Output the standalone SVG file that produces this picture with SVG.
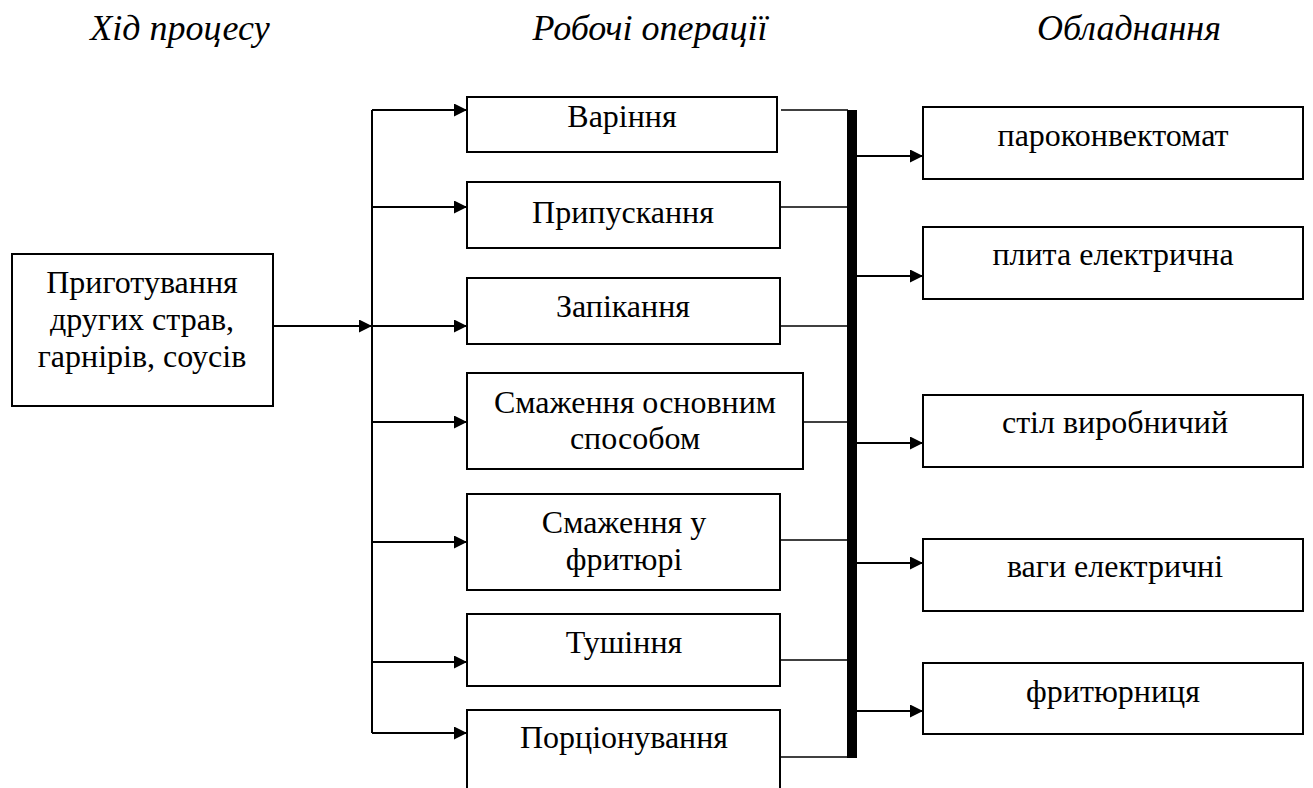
<svg xmlns="http://www.w3.org/2000/svg" width="1313" height="788" viewBox="0 0 1313 788" font-family="Liberation Serif, DejaVu Serif, serif">
<style>
.box{fill:#fff;stroke:#000;stroke-width:2}
text{font-family:"Liberation Serif",serif}
.t{font-size:32px;fill:#000;text-anchor:middle}
.h{font-size:36px;font-style:italic;fill:#000;text-anchor:middle}
.a{stroke:#000;stroke-width:2;fill:none;marker-end:url(#arr)}
.l{stroke:#000;stroke-width:1.5;fill:none}
</style>
<defs>
<marker id="arr" markerUnits="userSpaceOnUse" markerWidth="13" markerHeight="13" viewBox="0 0 13 13" refX="13" refY="6.5" orient="auto">
<path d="M0,0 L13,6.5 L0,13 Z" fill="#000"/>
</marker>
</defs>
<g id="headers">
<text class="h" x="180" y="40" font-family="Liberation Serif">Хід процесу</text>
<text class="h" x="650" y="40" font-family="Liberation Serif">Робочі операції</text>
<text class="h" x="1129" y="40" font-family="Liberation Serif">Обладнання</text>
</g>
<g id="connectors">
<line class="l" x1="372" y1="110" x2="372" y2="733" style="stroke-width:2"/>
<line class="a" x1="273" y1="326" x2="372" y2="326"/>
<line class="a" x1="372" y1="110" x2="467" y2="110"/>
<line class="a" x1="372" y1="207" x2="467" y2="207"/>
<line class="a" x1="372" y1="326" x2="467" y2="326"/>
<line class="a" x1="372" y1="422" x2="467" y2="422"/>
<line class="a" x1="372" y1="542" x2="467" y2="542"/>
<line class="a" x1="372" y1="662" x2="467" y2="662"/>
<line class="a" x1="372" y1="733" x2="467" y2="733"/>
<line class="l" x1="781" y1="110" x2="848" y2="110"/>
<line class="l" x1="781" y1="207" x2="848" y2="207"/>
<line class="l" x1="781" y1="326" x2="848" y2="326"/>
<line class="l" x1="781" y1="422" x2="848" y2="422"/>
<line class="l" x1="781" y1="540" x2="848" y2="540"/>
<line class="l" x1="781" y1="660" x2="848" y2="660"/>
<line class="l" x1="781" y1="757" x2="848" y2="757"/>
<rect x="847" y="110" width="10" height="648" fill="#000"/>
<line class="a" x1="857" y1="156" x2="923" y2="156"/>
<line class="a" x1="857" y1="276" x2="923" y2="276"/>
<line class="a" x1="857" y1="443" x2="923" y2="443"/>
<line class="a" x1="857" y1="563" x2="923" y2="563"/>
<line class="a" x1="857" y1="711" x2="923" y2="711"/>
</g>
<g id="n-main">
<rect class="box" x="12" y="254" width="261" height="152"/>
<text class="t" x="142" y="293">Приготування</text>
<text class="t" x="142" y="330">других страв,</text>
<text class="t" x="142" y="367">гарнірів, соусів</text>
</g>
<g id="n-varinnya">
<rect class="box" x="467" y="97" width="310" height="55"/>
<text class="t" x="622" y="127">Варіння</text>
</g>
<g id="n-pripuskannya">
<rect class="box" x="467" y="182" width="313" height="66"/>
<text class="t" x="623" y="223">Припускання</text>
</g>
<g id="n-zapikannya">
<rect class="box" x="467" y="278" width="313" height="66"/>
<text class="t" x="623" y="317">Запікання</text>
</g>
<g id="n-smazh-osn">
<rect class="box" x="467" y="373" width="336" height="96"/>
<text class="t" x="635" y="413">Смаження основним</text>
<text class="t" x="635" y="449">способом</text>
</g>
<g id="n-smazh-fryt">
<rect class="box" x="467" y="494" width="313" height="96"/>
<text class="t" x="624" y="533">Смаження у</text>
<text class="t" x="624" y="570">фритюрі</text>
</g>
<g id="n-tushinnya">
<rect class="box" x="467" y="614" width="313" height="72"/>
<text class="t" x="624" y="653">Тушіння</text>
</g>
<g id="n-portsionuvannya">
<rect class="box" x="467" y="710" width="313" height="90"/>
<text class="t" x="624" y="748">Порціонування</text>
</g>
<g id="n-parokonv">
<rect class="box" x="923" y="107" width="380" height="72"/>
<text class="t" x="1113" y="146">пароконвектомат</text>
</g>
<g id="n-plyta">
<rect class="box" x="923" y="227" width="380" height="72"/>
<text class="t" x="1113" y="265">плита електрична</text>
</g>
<g id="n-stil">
<rect class="box" x="923" y="395" width="380" height="72"/>
<text class="t" x="1115" y="433">стіл виробничий</text>
</g>
<g id="n-vagy">
<rect class="box" x="923" y="539" width="380" height="72"/>
<text class="t" x="1115" y="577">ваги електричні</text>
</g>
<g id="n-frytyurnytsya">
<rect class="box" x="923" y="663" width="380" height="71"/>
<text class="t" x="1113" y="702">фритюрниця</text>
</g>
</svg>
